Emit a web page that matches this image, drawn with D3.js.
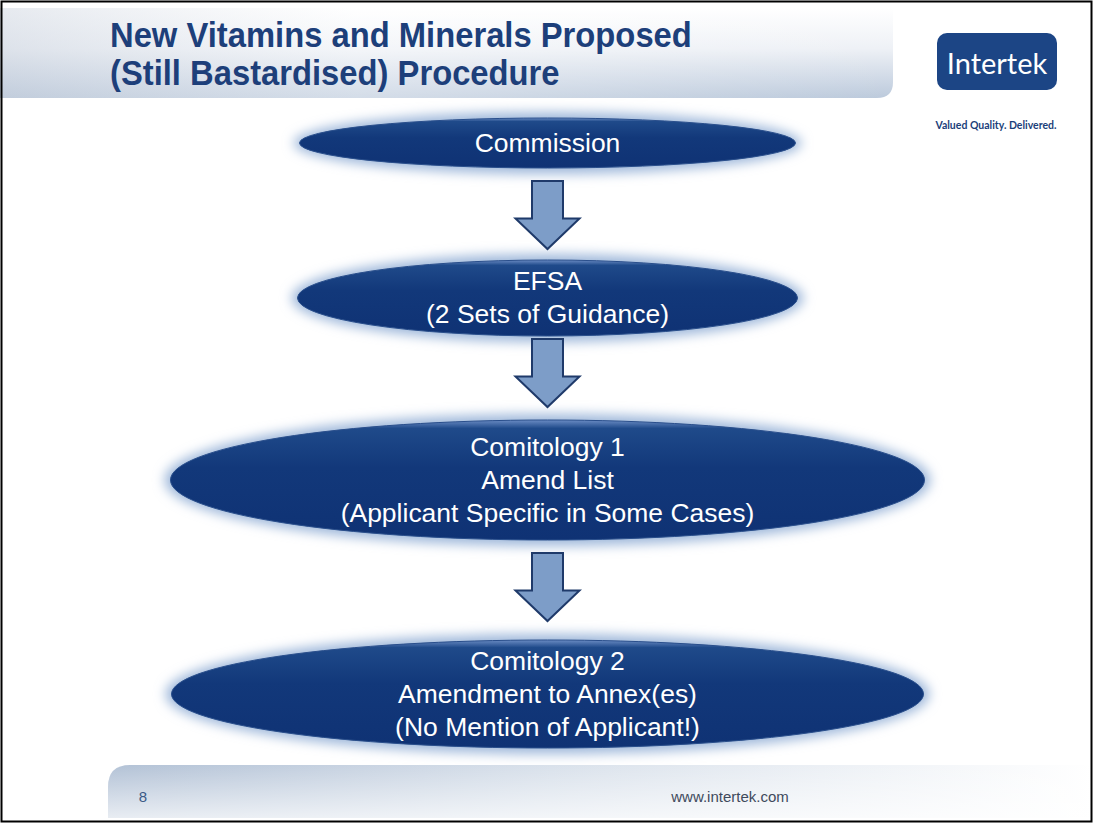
<!DOCTYPE html>
<html>
<head>
<meta charset="utf-8">
<script src="https://cdn.jsdelivr.net/npm/d3@7"></script>
<style>
  html, body { margin: 0; padding: 0; background: #ffffff; }
  svg { display: block; }
</style>
</head>
<body>
<div id="slide"></div>
<script>
// Slide content
var title_lines = ["New Vitamins and Minerals Proposed", "(Still Bastardised) Procedure"];
var stage_names = ["Commission", "EFSA", "Comitology 1", "Comitology 2"];
var stage_lines = [
    ["Commission"],
    ["EFSA", "(2 Sets of Guidance)"],
    ["Comitology 1", "Amend List", "(Applicant Specific in Some Cases)"],
    ["Comitology 2", "Amendment to Annex(es)", "(No Mention of Applicant!)"]
];
var logo_text = "Intertek";
var tagline = "Valued Quality. Delivered.";
var page_number = "8";
var footer_url = "www.intertek.com";

var width = 1093, height = 823;

var svg = d3.select("#slide").append("svg")
    .attr("width", width)
    .attr("height", height);

var defs = svg.append("defs");

// title band gradient
var g_title = defs.append("linearGradient").attr("id", "titleGrad")
    .attr("x1", 0).attr("y1", 0).attr("x2", 0).attr("y2", 1);
g_title.append("stop").attr("offset", "0%").attr("stop-color", "#ffffff");
g_title.append("stop").attr("offset", "45%").attr("stop-color", "#eef1f6");
g_title.append("stop").attr("offset", "100%").attr("stop-color", "#bccadc");

var g_title_h = defs.append("linearGradient").attr("id", "titleGradH")
    .attr("x1", 0).attr("y1", 0).attr("x2", 1).attr("y2", 0);
g_title_h.append("stop").attr("offset", "0%").attr("stop-color", "#c8d0dc").attr("stop-opacity", 0.45);
g_title_h.append("stop").attr("offset", "40%").attr("stop-color", "#ffffff").attr("stop-opacity", 0.35);
g_title_h.append("stop").attr("offset", "100%").attr("stop-color", "#ffffff").attr("stop-opacity", 0);

// footer band gradient
var g_foot = defs.append("linearGradient").attr("id", "footGrad")
    .attr("x1", 0).attr("y1", 0).attr("x2", 1).attr("y2", 0);
g_foot.append("stop").attr("offset", "0%").attr("stop-color", "#b3c2d6");
g_foot.append("stop").attr("offset", "45%").attr("stop-color", "#d9e1eb");
g_foot.append("stop").attr("offset", "100%").attr("stop-color", "#ffffff");

var g_foot_v = defs.append("linearGradient").attr("id", "footGradV")
    .attr("x1", 0).attr("y1", 0).attr("x2", 0).attr("y2", 1);
g_foot_v.append("stop").attr("offset", "0%").attr("stop-color", "#ffffff").attr("stop-opacity", 0);
g_foot_v.append("stop").attr("offset", "100%").attr("stop-color", "#ffffff").attr("stop-opacity", 0.7);

// ellipse fill
var g_ell = defs.append("linearGradient").attr("id", "ellGrad")
    .attr("x1", 0).attr("y1", 0).attr("x2", 0).attr("y2", 1);
g_ell.append("stop").attr("offset", "0%").attr("stop-color", "#6b8cc4");
g_ell.append("stop").attr("offset", "7%").attr("stop-color", "#1f4a8a");
g_ell.append("stop").attr("offset", "40%").attr("stop-color", "#12387a");
g_ell.append("stop").attr("offset", "100%").attr("stop-color", "#0f3274");

var glow = defs.append("filter").attr("id", "glow")
    .attr("x", "-20%").attr("y", "-60%").attr("width", "140%").attr("height", "220%");
glow.append("feGaussianBlur").attr("stdDeviation", 6);

// ---- title band ----
var band = d3.path();
band.moveTo(0, 8);
band.lineTo(893, 8);
band.lineTo(893, 82);
band.quadraticCurveTo(893, 98, 877, 98);
band.lineTo(0, 98);
band.closePath();
svg.append("path").attr("d", band.toString()).attr("fill", "url(#titleGrad)");
svg.append("path").attr("d", band.toString()).attr("fill", "url(#titleGradH)");

// title text is a little condensed, like the narrow face of the original
svg.append("g")
    .attr("transform", "translate(110,0) scale(0.95,1)")
    .selectAll("text")
    .data(title_lines)
    .join("text")
    .attr("x", 0)
    .attr("y", function(d, i) { return 47 + i * 38; })
    .attr("font-family", "Liberation Sans, Arial, sans-serif")
    .attr("font-weight", "bold")
    .attr("font-size", 34.5)
    .attr("fill", "#1d3f7a")
    .text(function(d) { return d; });

// ---- logo ----
svg.append("rect")
    .attr("x", 937).attr("y", 33)
    .attr("width", 120).attr("height", 57)
    .attr("rx", 10)
    .attr("fill", "#1c4585");
svg.append("text")
    .attr("x", 997).attr("y", 62)
    .attr("text-anchor", "middle")
    .attr("dominant-baseline", "central")
    .attr("font-family", "Lato, Open Sans, sans-serif")
    .attr("font-size", 29)
    .attr("fill", "#ffffff")
    .text(logo_text);
svg.append("text")
    .attr("x", 996).attr("y", 125)
    .attr("text-anchor", "middle")
    .attr("dominant-baseline", "central")
    .attr("font-family", "Lato, Open Sans, sans-serif")
    .attr("font-weight", "bold")
    .attr("font-size", 10.5)
    .attr("fill", "#1c3f7a")
    .text(tagline);

// ---- flow stages ----
// layout of the stage ovals (pixels), indexed by stage name
var cx = width / 2 + 1;
var stage_y = { "Commission": 143, "EFSA": 298, "Comitology 1": 480, "Comitology 2": 694 };
var stage_rx = { "Commission": 248, "EFSA": 250, "Comitology 1": 377, "Comitology 2": 376 };
var stage_ry = { "Commission": 25, "EFSA": 38, "Comitology 1": 60, "Comitology 2": 54 };
var line_h = 33;

var stages = svg.append("g").selectAll("g")
    .data(stage_names)
    .join("g")
    .attr("transform", function(d) { return "translate(" + cx + "," + stage_y[d] + ")"; });

stages.append("ellipse")
    .attr("rx", function(d) { return stage_rx[d] + 6; })
    .attr("ry", function(d) { return stage_ry[d] + 6; })
    .attr("fill", "#9fb8da")
    .attr("filter", "url(#glow)");

stages.append("ellipse")
    .attr("rx", function(d) { return stage_rx[d]; })
    .attr("ry", function(d) { return stage_ry[d]; })
    .attr("fill", "url(#ellGrad)")
    .attr("stroke", "#2a4f8c")
    .attr("stroke-width", 1);

stages.each(function(d, i) {
    var lines = stage_lines[i];
    var y0 = -(lines.length - 1) * line_h / 2;
    d3.select(this).selectAll("text")
        .data(lines)
        .join("text")
        .attr("x", 0)
        .attr("y", function(t, j) { return y0 + j * line_h; })
        .attr("text-anchor", "middle")
        .attr("dominant-baseline", "central")
        .attr("font-family", "Liberation Sans, Arial, sans-serif")
        .attr("font-size", 25)
        .attr("transform", "scale(1.06,1)")
        .attr("fill", "#ffffff")
        .text(function(t) { return t; });
});

// ---- arrows between stages ----
var arrow_top = [181, 339, 553];
var arrow_h = 68;

function arrow_path(top) {
    var p = d3.path();
    var sw = 15.5, hw = 32, head_y = top + arrow_h * 0.55, tip = top + arrow_h;
    p.moveTo(cx - sw, top);
    p.lineTo(cx + sw, top);
    p.lineTo(cx + sw, head_y);
    p.lineTo(cx + hw, head_y);
    p.lineTo(cx, tip);
    p.lineTo(cx - hw, head_y);
    p.lineTo(cx - sw, head_y);
    p.closePath();
    return p.toString();
}

svg.append("g").selectAll("path")
    .data(arrow_top)
    .join("path")
    .attr("d", function(d) { return arrow_path(d); })
    .attr("fill", "#7d9dc8")
    .attr("stroke", "#1f3a6a")
    .attr("stroke-width", 2)
    .attr("stroke-linejoin", "miter");

// ---- footer band ----
var foot = d3.path();
foot.moveTo(108, 818);
foot.lineTo(108, 787);
foot.quadraticCurveTo(108, 765, 130, 765);
foot.lineTo(1093, 765);
foot.lineTo(1093, 818);
foot.closePath();
svg.append("path").attr("d", foot.toString()).attr("fill", "url(#footGrad)");
svg.append("path").attr("d", foot.toString()).attr("fill", "url(#footGradV)");

svg.append("text")
    .attr("x", 143).attr("y", 796)
    .attr("text-anchor", "middle")
    .attr("dominant-baseline", "central")
    .attr("font-family", "Liberation Sans, Arial, sans-serif")
    .attr("font-size", 15)
    .attr("fill", "#3a5a86")
    .text(page_number);

svg.append("text")
    .attr("x", 730).attr("y", 796)
    .attr("text-anchor", "middle")
    .attr("dominant-baseline", "central")
    .attr("font-family", "Liberation Sans, Arial, sans-serif")
    .attr("font-size", 15)
    .attr("fill", "#3f4a5c")
    .text(footer_url);

// slide border
svg.append("rect")
    .attr("x", 1.5).attr("y", 1.5)
    .attr("width", width - 3).attr("height", height - 3)
    .attr("fill", "none")
    .attr("stroke", "#000000")
    .attr("stroke-width", 2);
</script>
</body>
</html>
